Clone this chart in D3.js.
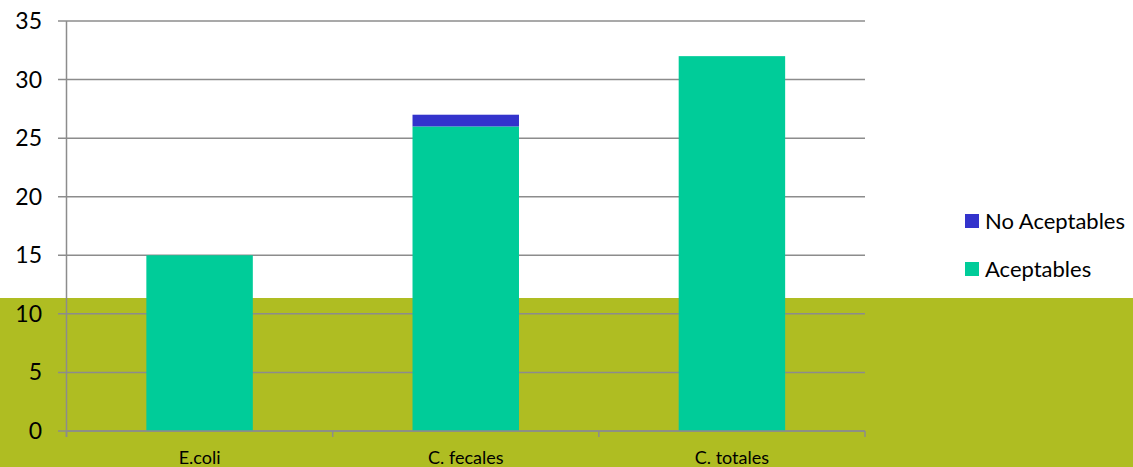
<!DOCTYPE html>
<html><head><meta charset="utf-8">
<script src="https://cdn.jsdelivr.net/npm/d3@7"></script>
<style>body{margin:0;background:#fff;}svg{display:block;}text{font-family:Lato,"Open Sans",sans-serif;fill:#000;}</style>
</head><body>
<svg id="c" width="1133" height="467"></svg>
<script>
const categories = ["E.coli", "C. fecales", "C. totales"];
const aceptables = [15, 26, 32];
const noAceptables = [0, 1, 0];
const yTicks = [0, 5, 10, 15, 20, 25, 30, 35];
const seriesNames = ["Aceptables", "No Aceptables"];
const seriesColors = ["#00CC99", "#3333CC"];

const svg = d3.select("#c");
const W = 1133, H = 467;
// olive band at bottom
svg.append("rect").attr("x",0).attr("y",298).attr("width",W).attr("height",H-298).attr("fill","#AFBD22");

const m = {left:66.5, right:865, top:21, bottom:431};
const x = d3.scaleBand().domain(categories).range([m.left, m.right]).paddingInner(0.6).paddingOuter(0.3);
const y = d3.scaleLinear().domain([0,35]).range([m.bottom, m.top]);

// gridlines
svg.append("g").selectAll("line").data(yTicks).join("line")
  .attr("x1",58).attr("x2",m.right).attr("y1",d=>y(d)).attr("y2",d=>y(d))
  .attr("stroke","#8C8C8C").attr("stroke-width",1.5);

const rows = categories.map((c,i)=>({cat:c, Aceptables:aceptables[i], "No Aceptables":noAceptables[i]}));
const stack = d3.stack().keys(seriesNames)(rows);
svg.append("g").selectAll("g").data(stack).join("g")
  .attr("fill",(d,i)=>seriesColors[i])
  .selectAll("rect").data(d=>d).join("rect")
  .attr("x",d=>x(d.data.cat)).attr("width",x.bandwidth())
  .attr("y",d=>y(d[1])).attr("height",d=>y(d[0])-y(d[1]));

// y axis line
svg.append("line").attr("x1",m.left).attr("x2",m.left).attr("y1",m.top).attr("y2",m.bottom+6)
  .attr("stroke","#8C8C8C").attr("stroke-width",1.5);
// x axis line + ticks at band boundaries
svg.append("line").attr("x1",m.left).attr("x2",m.right).attr("y1",m.bottom).attr("y2",m.bottom)
  .attr("stroke","#8C8C8C").attr("stroke-width",1.5);
const step = (m.right-m.left)/categories.length;
svg.append("g").selectAll("line").data(d3.range(categories.length+1)).join("line")
  .attr("x1",i=>m.left+i*step).attr("x2",i=>m.left+i*step).attr("y1",m.bottom).attr("y2",m.bottom+6)
  .attr("stroke","#8C8C8C").attr("stroke-width",1.5);

// y tick labels
svg.append("g").selectAll("text").data(yTicks).join("text")
  .attr("x",42).attr("y",d=>y(d)).attr("dy","0.35em").attr("text-anchor","end")
  .style("font-size","23px").text(d=>d);
// x labels
svg.append("g").selectAll("text").data(categories).join("text")
  .attr("x",d=>x(d)+x.bandwidth()/2).attr("y",464).attr("text-anchor","middle")
  .style("font-size","18px").text(d=>d);

// legend
const leg = [{n:"No Aceptables",c:seriesColors[1],y:221},{n:"Aceptables",c:seriesColors[0],y:269}];
const lg = svg.append("g").selectAll("g").data(leg).join("g");
lg.append("rect").attr("x",965).attr("y",d=>d.y-7).attr("width",14).attr("height",14).attr("fill",d=>d.c);
lg.append("text").attr("x",985).attr("y",d=>d.y).attr("dy","0.35em").style("font-size","22px").text(d=>d.n);
</script>
</body></html>
